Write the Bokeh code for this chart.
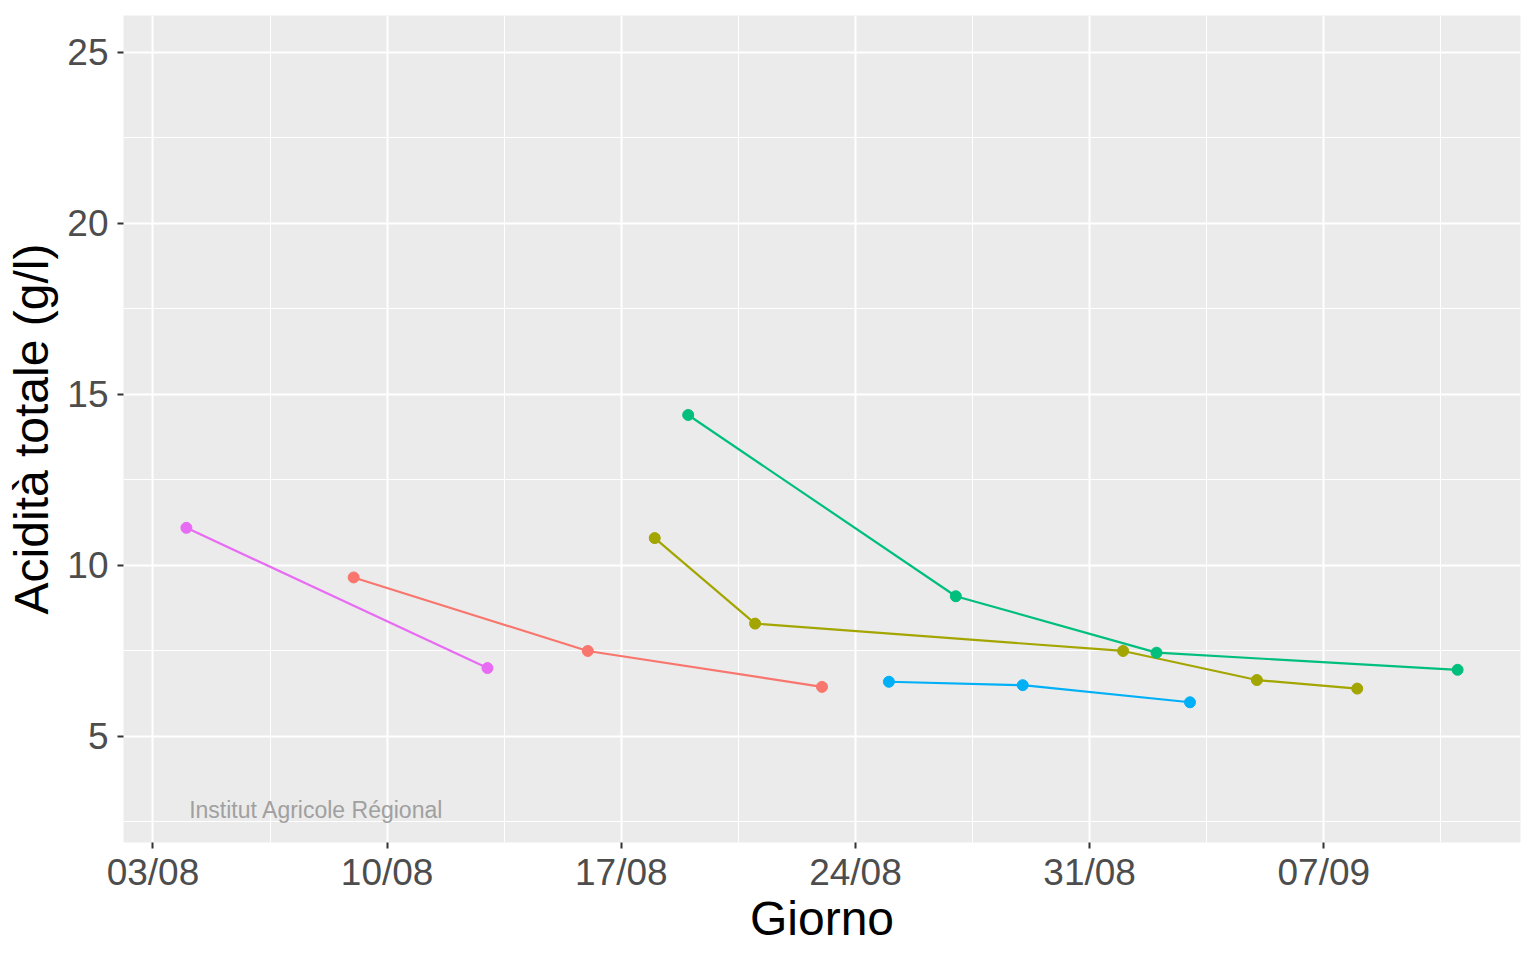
from datetime import datetime, timedelta
from bokeh.plotting import figure
from bokeh.models import Range1d, FixedTicker, DatetimeTickFormatter, Label
from bokeh.embed import file_html
from bokeh.resources import INLINE

# ---- data ----
red_dates = ["2021-08-09", "2021-08-16", "2021-08-23"]
red_vals = [9.65, 7.5, 6.45]
olive_dates = ["2021-08-18", "2021-08-21", "2021-09-01", "2021-09-05", "2021-09-08"]
olive_vals = [10.8, 8.3, 7.5, 6.65, 6.4]
green_dates = ["2021-08-19", "2021-08-27", "2021-09-02", "2021-09-11"]
green_vals = [14.4, 9.1, 7.45, 6.95]
blue_dates = ["2021-08-25", "2021-08-29", "2021-09-03"]
blue_vals = [6.6, 6.5, 6.0]
magenta_dates = ["2021-08-04", "2021-08-13"]
magenta_vals = [11.1, 7.0]

x_tick_dates = ["2021-08-03", "2021-08-10", "2021-08-17", "2021-08-24", "2021-08-31", "2021-09-07"]
y_ticks = [5, 10, 15, 20, 25]
y_minor = [2.5, 7.5, 12.5, 17.5, 22.5]

series = [
    (red_dates, red_vals, "#F8766D"),
    (olive_dates, olive_vals, "#A3A500"),
    (green_dates, green_vals, "#00BF7D"),
    (blue_dates, blue_vals, "#00B0F6"),
    (magenta_dates, magenta_vals, "#E76BF3"),
]

def d(s):
    return datetime.strptime(s, "%Y-%m-%d")

def ms(dt):
    return (dt - datetime(1970, 1, 1)).total_seconds() * 1000.0

start = d(x_tick_dates[0])
x_range = Range1d(start - timedelta(days=0.88), start + timedelta(days=40.88))
y_range = Range1d(1.9, 26.08)

FONT = "Liberation Sans"

p = figure(width=1528, height=952, x_axis_type="datetime",
           x_range=x_range, y_range=y_range,
           output_backend="svg", toolbar_location=None,
           min_border_left=123, min_border_right=8,
           min_border_top=15, min_border_bottom=110)
p.background_fill_color = "#EBEBEB"
p.border_fill_color = "white"
p.outline_line_color = None

xt_major = [ms(d(s)) for s in x_tick_dates]
xt_minor = [ms(d(s) + timedelta(days=3.5)) for s in x_tick_dates]
p.xaxis.ticker = FixedTicker(ticks=xt_major, minor_ticks=xt_minor)
p.xaxis.formatter = DatetimeTickFormatter(days="%d/%m", months="%d/%m", hours="%d/%m")
p.yaxis.ticker = FixedTicker(ticks=y_ticks, minor_ticks=y_minor)

for g in (p.xgrid[0], p.ygrid[0]):
    g.grid_line_color = "white"
    g.grid_line_width = 2
    g.minor_grid_line_color = "white"
    g.minor_grid_line_width = 1

for ax in (p.xaxis[0], p.yaxis[0]):
    ax.axis_line_color = None
    ax.major_tick_line_color = "#333333"
    ax.major_tick_line_width = 2
    ax.major_tick_out = 6
    ax.major_tick_in = 0
    ax.minor_tick_line_color = None
    ax.major_label_text_font = FONT
    ax.major_label_text_font_size = "37px"
    ax.major_label_text_color = "#4D4D4D"
    ax.axis_label_text_font = FONT
    ax.axis_label_text_font_size = "48px"
    ax.axis_label_text_font_style = "normal"
    ax.axis_label_text_color = "black"

p.xaxis.major_label_standoff = 3
p.xaxis.axis_label_standoff = -4
p.yaxis.major_label_standoff = 9
p.yaxis.axis_label_standoff = 6

p.xaxis.axis_label = "Giorno"
p.yaxis.axis_label = "Acidità totale (g/l)"

for dates, vals, col in series:
    xs = [d(s) for s in dates]
    p.line(xs, vals, line_color=col, line_width=2.2)
    p.scatter(xs, vals, fill_color=col, line_color=col, size=11)

p.add_layout(Label(x=ms(d("2021-08-04") + timedelta(hours=2)), y=2.84,
                   text="Institut Agricole Régional", text_font=FONT,
                   text_font_size="23px", text_color="#A0A0A0",
                   text_baseline="middle", text_align="left"))

open("out.html", "w").write(file_html(p, INLINE))
